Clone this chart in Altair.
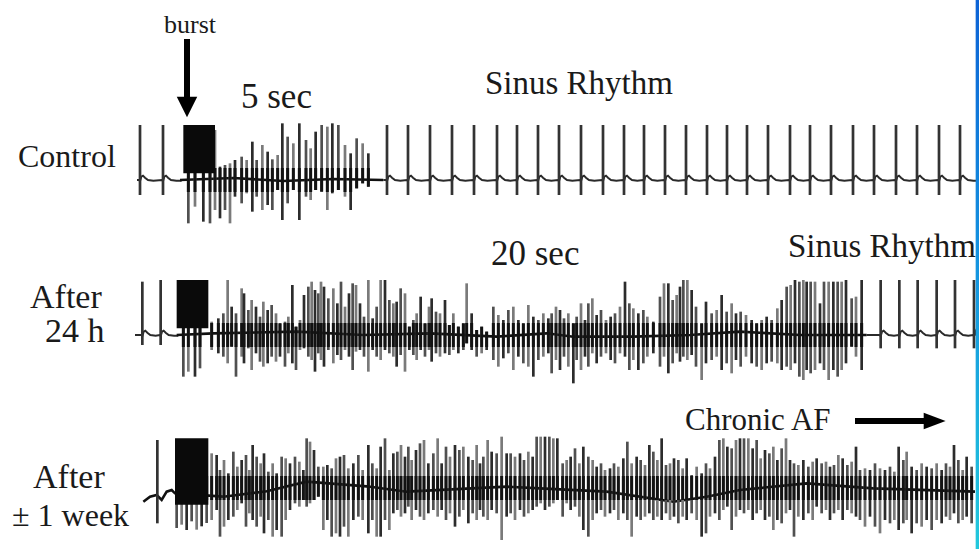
import altair as alt
import pandas as pd

# Canvas units: both axes measured in thirds of a pixel.
T_SPAN, V_SPAN = 2937, 1647
LEVEL = {"control": 540, "day1": 1005, "week1": 1464}

# ---- sinus beats: (time, R amplitude, S amplitude) ----
control_sinus = [(420, 165, -45), (489, 165, -45)] + [
    (t, 165, -45) for t in [1161, 1224, 1290, 1356, 1422, 1491, 1551, 1614, 1677,
                            1743, 1809, 1872, 1932, 1995, 2058, 2121, 2181, 2241,
                            2304, 2370, 2430, 2493, 2559, 2622, 2688, 2751, 2817, 2880]]
day1_sinus = [(427, 160, -30), (482, 165, -30), (2642, 165, -40), (2698, 165, -40),
              (2753, 165, -40), (2810, 165, -40), (2865, 165, -40), (2922, 165, -40)]
week1_sinus = [(472, 144, -106)]

# ---- fibrillation deflections: (time, upper amplitude, lower amplitude) ----
control_af = [
    (565, 150, -130), (585, 150, -80), (610, 150, -125), (630, 150, -130), (645, 150, -90),
    (660, 40, -115), (675, 45, -90), (690, 50, -130), (705, 60, -50), (725, 70, -70),
    (740, 60, -40), (757, 115, -95), (770, 60, -50), (787, 105, -90), (803, 85, -75),
    (817, 62, -90), (833, 75, -30), (847, 170, -120), (863, 130, -70), (880, 110, -30),
    (898, 170, -120), (918, 120, -50), (932, 95, -60), (947, 145, -30), (965, 165, -35),
    (982, 160, -90), (997, 170, -40), (1015, 165, -30), (1035, 105, -50), (1052, 80, -90),
    (1070, 125, -25), (1088, 110, -10), (1105, 80, -20)]

day1_af = [
    (550, 150, -125), (565, 150, -110), (585, 150, -125), (600, 150, -100),
    (635, 40, -45), (655, 50, -55), (670, 65, -65), (683, 165, -85), (695, 85, -35),
    (708, 65, -125), (725, 140, -65), (732, 125, -85), (745, 75, -40), (755, 105, -105),
    (768, 85, -55), (780, 55, -80), (790, 100, -95), (803, 75, -85), (815, 90, -65),
    (828, 65, -80), (840, 35, -65), (855, 40, -95), (865, 55, -55), (877, 150, -85),
    (888, 25, -105), (900, 45, -45), (912, 120, -40), (925, 145, -65), (935, 160, -75),
    (945, 135, -110), (955, 125, -55), (963, 160, -75), (972, 145, -95), (985, 110, -45),
    (1000, 140, -85), (1012, 95, -60), (1023, 160, -75), (1035, 85, -45), (1047, 125, -65),
    (1058, 155, -105), (1068, 150, -50), (1080, 95, -45), (1092, 55, -65), (1105, 165, -110),
    (1118, 50, -45), (1130, 85, -65), (1142, 165, -75), (1155, 165, -45), (1168, 105, -55),
    (1180, 95, -65), (1190, 100, -95), (1202, 140, -60), (1215, 125, -110), (1228, 25, -45),
    (1240, 45, -60), (1250, 65, -75), (1262, 115, -45), (1275, 35, -65), (1287, 85, -45),
    (1295, 110, -80), (1308, 70, -55), (1320, 65, -65), (1335, 105, -55), (1348, 30, -60),
    (1360, 65, -45), (1375, 25, -55), (1390, 35, -45), (1400, 155, -25), (1415, 65, -45),
    (1430, 15, -65), (1445, 25, -55), (1460, 10, -45), (1480, 85, -75), (1495, 60, -95),
    (1510, 45, -70), (1525, 75, -55), (1540, 85, -105), (1555, 45, -65), (1570, 35, -85),
    (1585, 90, -95), (1600, 55, -125), (1615, 45, -75), (1630, 65, -65), (1645, 50, -55),
    (1655, 65, -115), (1668, 85, -75), (1680, 75, -105), (1692, 50, -65), (1705, 65, -95),
    (1720, 35, -145), (1730, 55, -75), (1743, 95, -105), (1755, 45, -65), (1765, 95, -95),
    (1777, 110, -55), (1790, 60, -85), (1803, 75, -65), (1818, 45, -55), (1832, 55, -75),
    (1845, 65, -85), (1860, 85, -55), (1875, 160, -65), (1888, 95, -105), (1900, 80, -75),
    (1915, 65, -105), (1930, 75, -85), (1942, 55, -65), (1960, 40, -55), (1980, 115, -95),
    (1992, 155, -65), (2005, 155, -115), (2018, 105, -85), (2030, 120, -55), (2040, 145, -80),
    (2050, 165, -65), (2062, 165, -75), (2075, 135, -60), (2088, 85, -95), (2105, 35, -135),
    (2118, 100, -85), (2135, 65, -75), (2150, 75, -65), (2165, 120, -105), (2180, 70, -85),
    (2195, 95, -115), (2208, 65, -75), (2222, 70, -95), (2238, 60, -65), (2255, 45, -85),
    (2270, 35, -95), (2285, 45, -105), (2300, 55, -85), (2315, 45, -80), (2332, 80, -85),
    (2345, 105, -105), (2360, 145, -95), (2372, 150, -105), (2385, 165, -85), (2398, 160, -125),
    (2410, 165, -135), (2420, 160, -105), (2432, 160, -115), (2445, 160, -105), (2460, 95, -85),
    (2472, 160, -105), (2486, 160, -135), (2500, 160, -105), (2513, 160, -125), (2525, 160, -105),
    (2538, 165, -85), (2555, 110, -35), (2568, 115, -65), (2585, 165, -105)]

week1_af = [
    (530, 140, -120), (545, 140, -110), (560, 140, -126), (575, 140, -100), (590, 140, -125),
    (605, 140, -115), (620, 140, -105),
    (635, 104, -96), (650, 99, -66), (660, 54, -146), (672, 84, -116), (685, 44, -96),
    (700, 109, -86), (712, 64, -66), (725, 84, -46), (738, 99, -116), (748, 54, -76),
    (758, 129, -96), (770, 94, -116), (782, 74, -86), (792, 104, -136), (805, 49, -96),
    (818, 74, -146), (830, 44, -126), (845, 94, -146), (857, 89, -96), (870, 74, -66),
    (885, 94, -46), (898, 79, -56), (910, 54, -36), (920, 149, -56), (930, 139, -46),
    (942, 114, -36), (955, 64, -26), (970, 64, -126), (982, 69, -96), (995, 59, -146),
    (1008, 89, -136), (1020, 94, -146), (1032, 99, -116), (1045, 59, -146), (1060, 74, -96),
    (1075, 99, -86), (1088, 54, -96), (1105, 129, -136), (1117, 74, -96), (1130, 59, -146),
    (1142, 124, -146), (1155, 149, -96), (1168, 54, -126), (1180, 104, -76), (1192, 109, -66),
    (1203, 129, -86), (1215, 94, -76), (1225, 124, -56), (1235, 84, -96), (1248, 114, -66),
    (1260, 134, -86), (1272, 144, -96), (1285, 74, -76), (1300, 104, -66), (1313, 149, -86),
    (1325, 74, -66), (1338, 124, -96), (1350, 94, -76), (1365, 129, -116), (1378, 114, -86),
    (1390, 124, -66), (1405, 94, -106), (1418, 84, -76), (1430, 129, -96), (1440, 74, -66),
    (1450, 94, -86), (1463, 144, -96), (1475, 109, -66), (1490, 104, -76), (1505, 154, -156),
    (1520, 104, -86), (1532, 104, -76), (1545, 94, -96), (1560, 104, -66), (1572, 84, -86),
    (1585, 109, -76), (1598, 94, -66), (1610, 154, -56), (1622, 154, -46), (1635, 154, -66),
    (1648, 154, -56), (1660, 149, -46), (1672, 149, -36),
    (1688, 74, -86), (1700, 84, -46), (1712, 94, -66), (1725, 119, -56), (1738, 74, -86),
    (1750, 124, -126), (1765, 94, -146), (1778, 84, -96), (1790, 64, -76), (1803, 74, -66),
    (1815, 54, -86), (1830, 59, -76), (1842, 74, -66), (1855, 64, -96), (1870, 89, -76),
    (1882, 139, -96), (1895, 74, -146), (1910, 94, -86), (1922, 84, -96), (1935, 69, -86),
    (1948, 129, -76), (1960, 109, -96), (1972, 84, -86), (1985, 149, -96), (1998, 69, -76),
    (2010, 74, -96), (2022, 89, -86), (2035, 84, -106), (2048, 59, -86), (2060, 89, -96),
    (2075, 39, -76), (2090, 64, -96), (2105, 44, -146), (2118, 74, -136), (2130, 59, -86),
    (2145, 94, -76), (2158, 144, -96), (2170, 149, -66), (2182, 124, -56), (2195, 119, -126),
    (2208, 144, -86), (2220, 149, -66), (2232, 149, -76), (2245, 149, -66), (2258, 119, -96),
    (2270, 144, -76), (2282, 89, -66), (2295, 114, -96), (2308, 104, -86), (2320, 124, -126),
    (2332, 84, -96), (2345, 119, -106), (2358, 149, -76), (2370, 84, -66), (2382, 74, -146),
    (2395, 69, -86), (2410, 84, -96), (2425, 64, -76), (2438, 79, -96), (2450, 89, -56),
    (2465, 74, -76), (2478, 79, -66), (2490, 64, -96), (2502, 69, -76), (2515, 99, -66),
    (2528, 89, -96), (2542, 69, -66), (2555, 79, -76), (2568, 124, -86), (2580, 54, -96),
    (2595, 59, -116), (2610, 54, -86), (2625, 74, -116), (2640, 59, -136), (2655, 54, -96),
    (2670, 64, -106), (2683, 49, -96), (2696, 124, -126), (2710, 84, -106), (2720, 109, -96),
    (2735, 64, -136), (2750, 54, -106), (2765, 74, -116), (2780, 64, -96), (2795, 59, -126),
    (2810, 74, -96), (2825, 54, -106), (2838, 74, -86), (2850, 64, -96), (2862, 129, -76),
    (2875, 84, -106), (2888, 54, -96), (2900, 94, -86), (2915, 64, -106)]

# ---- isoelectric line during fibrillation: (time, offset) knots ----
control_drift = [(540, 0), (700, 6), (850, -3), (1000, 3), (1150, 0)]
day1_drift = [(530, 0), (640, 5), (890, 10), (1090, 0), (1290, 5), (1490, -5), (1640, 5),
              (1720, -5), (1900, -5), (2070, 0), (2220, 10), (2400, 0), (2600, 0)]
week1_drift = [(430, -41), (450, -26), (470, -21), (485, -36), (500, -11), (515, -6),
               (525, -16), (670, -26), (800, -10), (920, 19), (1100, 5), (1220, -11),
               (1520, 4), (1620, -1), (1820, -11), (2020, -41), (2120, -26), (2220, -6),
               (2420, 14), (2620, -1), (2925, -11)]

# ---- burst pacing blocks: (row, start, end, top, bottom) ----
bursts = [("control", 550, 645, 165, 20), ("day1", 530, 625, 165, 20),
          ("week1", 525, 625, 149, -50)]

# repolarisation shape following each sinus complex (time offset, amplitude)
T_WAVE = [(-3, 0), (0, -3), (4, 10), (9, 13), (15, 7), (24, 0), (40, -2)]

spike_rows, line_rows, noise_rows = [], [], []


def add_spikes(row, items, kind):
    for i, (t, r, s) in enumerate(items):
        spike_rows.append({"row": row, "kind": kind if kind == "sinus" else f"af{i % 3}",
                           "t": t, "y1": LEVEL[row] - r, "y2": LEVEL[row] - s,
                           "c1": LEVEL[row] - min(r, 36), "c2": LEVEL[row] - max(s, -36)})


def add_sinus_line(row, beats, start, end, seg):
    pts = [(start, 0)]
    for t, _, _ in beats:
        pts += [(t + dt, a) for dt, a in T_WAVE]
    pts.append((end, -2))
    for t, a in pts:
        line_rows.append({"seg": f"{row}-{seg}", "t": t, "y": LEVEL[row] - a})


def add_drift(row, knots):
    for t, a in knots:
        noise_rows.append({"seg": row, "t": t, "y": LEVEL[row] - a})


add_spikes("control", control_sinus, "sinus")
add_spikes("control", control_af, "af")
add_spikes("day1", day1_sinus, "sinus")
add_spikes("day1", day1_af, "af")
add_spikes("week1", week1_sinus, "sinus")
add_spikes("week1", week1_af, "af")

add_sinus_line("control", control_sinus[:2], 411, 545, "a")
add_sinus_line("control", control_sinus[2:], 1150, 2930, "b")
add_sinus_line("day1", day1_sinus[:2], 405, 535, "a")
add_sinus_line("day1", day1_sinus[2:], 2600, 2930, "b")
add_drift("control", control_drift)
add_drift("day1", day1_drift)
add_drift("week1", week1_drift)

spikes = pd.DataFrame(spike_rows)
lines = pd.DataFrame(line_rows)
noise = pd.DataFrame(noise_rows)
blocks = pd.DataFrame([{"t1": a, "t2": b, "y1": LEVEL[r] - top, "y2": LEVEL[r] - bot}
                       for r, a, b, top, bot in bursts])

XSC = alt.Scale(domain=[0, T_SPAN], nice=False, zero=False)
YSC = alt.Scale(domain=[0, V_SPAN], nice=False, zero=False, reverse=True)
X = alt.X("t:Q", scale=XSC, axis=None)
Y = alt.Y("y:Q", scale=YSC, axis=None)

sinus_line = alt.Chart(lines).mark_line(color="#2a2a2a", strokeWidth=2).encode(
    x=X, y=Y, detail="seg:N")
drift_line = alt.Chart(noise).mark_line(color="#111111", strokeWidth=2.6).encode(
    x=X, y=Y, detail="seg:N")

spike_layer = alt.Chart(spikes).mark_rule(strokeWidth=2.7).encode(
    x=X, y=alt.Y("y1:Q", scale=YSC, axis=None), y2="y2:Q",
    color=alt.Color("kind:N", scale=alt.Scale(domain=["sinus", "af0", "af1", "af2"],
                                              range=["#333333", "#505050", "#7a7a7a", "#2c2c2c"]),
                    legend=None))
core_layer = alt.Chart(spikes[spikes.kind != "sinus"]).mark_rule(
    strokeWidth=3, color="#121212").encode(
    x=X, y=alt.Y("c1:Q", scale=YSC, axis=None), y2="c2:Q")

block_layer = alt.Chart(blocks).mark_rect(color="#0a0a0a").encode(
    x=alt.X("t1:Q", scale=XSC, axis=None), x2="t2:Q",
    y=alt.Y("y1:Q", scale=YSC, axis=None), y2="y2:Q")

# ---- annotations ----
labels = pd.DataFrame([
    {"text": "5 sec", "t": 723, "y": 324, "size": 35},
    {"text": "Sinus Rhythm", "t": 1455, "y": 282, "size": 33},
    {"text": "Control", "t": 54, "y": 501, "size": 32},
    {"text": "20 sec", "t": 1473, "y": 795, "size": 35},
    {"text": "Sinus Rhythm", "t": 2364, "y": 771, "size": 33},
    {"text": "After", "t": 90, "y": 924, "size": 34},
    {"text": "24 h", "t": 135, "y": 1026, "size": 34},
    {"text": "Chronic AF", "t": 2055, "y": 1290, "size": 31},
    {"text": "After", "t": 99, "y": 1464, "size": 34},
    {"text": "\u00b1 1 week", "t": 36, "y": 1578, "size": 32},
])
text_layer = alt.Chart(labels).mark_text(
    font="Liberation Serif", align="left", baseline="alphabetic", color="#1a1a1a").encode(
    x=X, y=Y, text="text:N", size=alt.Size("size:Q", scale=None))
burst_text = alt.Chart(pd.DataFrame([{"text": "burst", "t": 570, "y": 99}])).mark_text(
    font="Liberation Serif", align="center", baseline="alphabetic", fontSize=26,
    color="#1a1a1a").encode(x=X, y=Y, text="text:N")

shafts = pd.DataFrame([
    {"t": 561, "y": 117, "t2": 561, "y2": 300},
    {"t": 2565, "y": 1263, "t2": 2780, "y2": 1263},
])
shaft_layer = alt.Chart(shafts).mark_rule(color="#000000", strokeWidth=6).encode(
    x=X, y=Y, x2="t2:Q", y2="y2:Q")
head_down = alt.Chart(pd.DataFrame([{"t": 561, "y": 321}])).mark_point(
    shape="M-1,-1L1,-1L0,1Z", filled=True, opacity=1, color="#000000", size=420).encode(x=X, y=Y)
head_right = alt.Chart(pd.DataFrame([{"t": 2804, "y": 1263}])).mark_point(
    shape="M-1,-0.75L1,0L-1,0.75Z", filled=True, opacity=1, color="#000000", size=480).encode(
    x=X, y=Y)

edge = alt.Chart(pd.DataFrame([{"t": 2927, "t2": T_SPAN, "y": 0, "y2": V_SPAN}])).mark_rect(
    color=alt.Gradient(gradient="linear", x1=0, x2=0, y1=0, y2=1,
                       stops=[alt.GradientStop(offset=0, color="#0d63d6"),
                              alt.GradientStop(offset=0.5, color="#1596e0"),
                              alt.GradientStop(offset=1, color="#22c8dc")])).encode(
    x=X, x2="t2:Q", y=Y, y2="y2:Q")

chart = alt.layer(
    sinus_line, drift_line, spike_layer, core_layer, block_layer,
    text_layer, burst_text, shaft_layer, head_down, head_right, edge
).properties(width=979, height=549, padding=0, autosize=alt.AutoSizeParams(type="none"),
             background="#ffffff").configure_view(stroke=None)

chart.save("out.html", embed_options={"renderer": "svg", "actions": False})
